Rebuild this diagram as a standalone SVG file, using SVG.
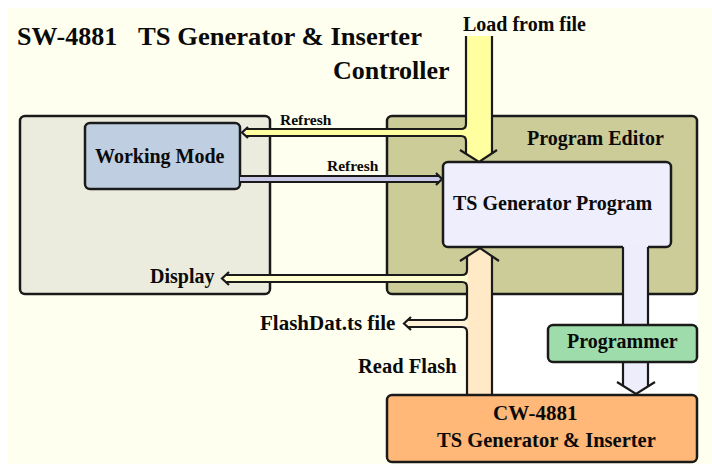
<svg xmlns="http://www.w3.org/2000/svg" width="712" height="464" viewBox="0 0 712 464">
<style>
  .box { stroke: #1a1a1a; stroke-width: 2.5; }
  .ln { fill: none; stroke: #1a1a1a; stroke-width: 2.2; stroke-linejoin: miter; }
  .t { font-family: "Liberation Serif", "Times New Roman", serif; font-weight: bold; fill: #0a0a0a; }
</style>
<rect x="0" y="0" width="712" height="464" fill="#ffffff"/>
<rect x="8" y="8" width="704" height="456" fill="#FFFFF0"/>
<rect x="492" y="294" width="205" height="101" fill="#ffffff"/>

<g id="title">
  <text class="t" x="17" y="45" font-size="26">SW-4881</text>
  <text class="t" x="138" y="45" font-size="26" textLength="284" lengthAdjust="spacingAndGlyphs">TS Generator &amp; Inserter</text>
  <text class="t" x="333" y="79" font-size="26">Controller</text>
</g>

<g id="controller">
  <rect class="box" x="20" y="116" width="250" height="178" rx="5" fill="#ECECDE"/>
</g>
<g id="working-mode">
  <rect class="box" x="85" y="123" width="155" height="66" rx="5" fill="#BFCFE1"/>
  <text class="t" x="95" y="163" font-size="20">Working Mode</text>
</g>
<g id="program-editor">
  <rect class="box" x="387" y="116" width="310" height="178" rx="5" fill="#CCCC99"/>
  <text class="t" x="527" y="145" font-size="20">Program Editor</text>
</g>
<g id="ts-generator-program">
  <rect class="box" x="443" y="162" width="228" height="85" rx="5" fill="#EEEEFD"/>
  <text class="t" x="453" y="210" font-size="20">TS Generator Program</text>
</g>

<g id="connectors">
  <!-- Load from file (down) + Refresh (left) -->
  <polygon points="466,36 492,36 492,153.3 479,162 466,153.8" fill="#FFFFA0"/>
  <rect x="245" y="129" width="223" height="7" fill="#FFFFA0"/>
  <path class="ln" d="M492,36 V153.3"/>
  <path class="ln" d="M466,36 V124 Q466,129 461,129 H246"/>
  <path class="ln" d="M246,136 H461 Q466,136 466,141 V153.8"/>
  <path class="ln" d="M460,150 L479,162 L497,150"/>
  <path class="ln" d="M248,127 L242,132.5 L248,138"/>

  <!-- Refresh (right) -->
  <rect x="240" y="176" width="199" height="6" fill="#C8C8E6"/>
  <path class="ln" d="M240,176 H439 M240,182 H439"/>
  <path class="ln" d="M436,173 L442,179 L436,185"/>

  <!-- Read Flash (up) + Display + FlashDat -->
  <polygon points="467,395 467,256.5 480,248 492,256.2 492,395" fill="#FFE9C6"/>
  <rect x="225" y="275" width="243" height="7" fill="#FFFFD0"/>
  <rect x="407" y="320" width="61" height="7" fill="#FFF2D6"/>
  <path class="ln" d="M492,256.2 V395"/>
  <path class="ln" d="M467,256.5 V270 Q467,275 462,275 H225"/>
  <path class="ln" d="M225,282 H462 Q467,282 467,287 V315 Q467,320 462,320 H407"/>
  <path class="ln" d="M407,327 H462 Q467,327 467,332 V395"/>
  <path class="ln" d="M460,261 L480,248 L499,261"/>
  <path class="ln" d="M229,272 L222,278.5 L229,285"/>
  <path class="ln" d="M411,317 L404,323.5 L411,330"/>

  <!-- Programmer path (down) -->
  <polygon points="623,245 648,245 648,386.4 636,394 623,385.8" fill="#EDEDFC"/>
  <path class="ln" d="M623,247 V385.8 M648,247 V386.4"/>
  <path class="ln" d="M617,382 L636,394 L655,382"/>
</g>

<g id="load-label">
  <text class="t" x="463" y="31" font-size="20">Load from file</text>
</g>
<g id="labels">
  <text class="t" x="280" y="125" font-size="15.5">Refresh</text>
  <text class="t" x="327" y="171" font-size="15.5">Refresh</text>
  <text class="t" x="150" y="283" font-size="20">Display</text>
  <text class="t" x="260" y="330" font-size="21">FlashDat.ts file</text>
  <text class="t" x="358" y="373" font-size="20.5">Read Flash</text>
</g>

<g id="programmer">
  <rect class="box" x="548" y="325" width="149" height="37" rx="5" fill="#9EDDAB"/>
  <text class="t" x="567" y="348" font-size="20">Programmer</text>
</g>
<g id="cw-4881">
  <rect class="box" x="387" y="395" width="310" height="67" rx="5" fill="#FFB877"/>
  <text class="t" x="493" y="420" font-size="21">CW-4881</text>
  <text class="t" x="437" y="447" font-size="20.5">TS Generator &amp; Inserter</text>
</g>
</svg>
